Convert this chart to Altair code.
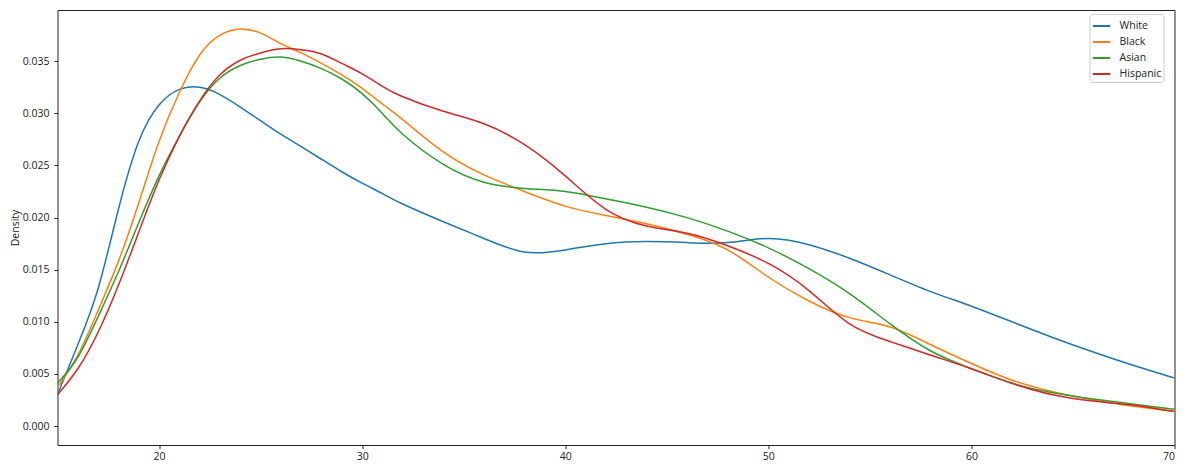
import altair as alt
import pandas as pd

ages = [15, 16, 17, 18, 19, 20, 21, 22, 23, 24, 25, 26, 27, 28, 29, 30, 31,
        32, 34, 36, 38, 40, 42, 44, 46, 48, 50, 52, 54, 56, 58, 60, 62, 64, 66, 68, 70]

white = [0.0030, 0.0078, 0.0132, 0.0208, 0.0273, 0.0308, 0.0323, 0.0325, 0.0318, 0.0306,
         0.0293, 0.0280, 0.0268, 0.0256, 0.0244, 0.0233, 0.0223, 0.0213, 0.0196, 0.0180,
         0.0167, 0.0169, 0.0175, 0.0177, 0.0176, 0.0176, 0.0180, 0.0174, 0.0161, 0.0145,
         0.0129, 0.0115, 0.0100, 0.0085, 0.0071, 0.0058, 0.0046]
black = [0.0037, 0.0068, 0.0111, 0.0158, 0.0214, 0.0273, 0.0320, 0.0356, 0.0375, 0.0381,
         0.0377, 0.0367, 0.0358, 0.0348, 0.0337, 0.0324, 0.0309, 0.0294, 0.0263, 0.0241,
         0.0225, 0.0211, 0.0202, 0.0194, 0.0184, 0.0169, 0.0143, 0.0120, 0.0104, 0.0095,
         0.0078, 0.0060, 0.0044, 0.0033, 0.0025, 0.0019, 0.0014]
asian = [0.0041, 0.0066, 0.0105, 0.0148, 0.0195, 0.0240, 0.0278, 0.0311, 0.0334, 0.0346,
         0.0352, 0.0354, 0.0350, 0.0343, 0.0333, 0.0319, 0.0300, 0.0280, 0.0251, 0.0234,
         0.0228, 0.0225, 0.0218, 0.0210, 0.0200, 0.0187, 0.0171, 0.0151, 0.0127, 0.0098,
         0.0072, 0.0055, 0.0041, 0.0032, 0.0026, 0.0021, 0.0016]
hispanic = [0.0030, 0.0055, 0.0090, 0.0135, 0.0186, 0.0236, 0.0278, 0.0312, 0.0337, 0.0351,
            0.0358, 0.0362, 0.0361, 0.0357, 0.0348, 0.0338, 0.0326, 0.0316, 0.0302, 0.0290,
            0.0270, 0.0240, 0.0208, 0.0192, 0.0185, 0.0173, 0.0156, 0.0130, 0.0098, 0.0081,
            0.0068, 0.0055, 0.0041, 0.0030, 0.0024, 0.0020, 0.0014]

groups = ["White", "Black", "Asian", "Hispanic"]
colors = ["#1f77b4", "#ff7f0e", "#2ca02c", "#d62728"]
series = [white, black, asian, hispanic]

x_ticks = [20, 30, 40, 50, 60, 70]
y_ticks = [0, 0.005, 0.01, 0.015, 0.02, 0.025, 0.03, 0.035]

rows = []
for g, vals in zip(groups, series):
    for a, v in zip(ages, vals):
        rows.append({"age": a, "density": v, "race": g})
df = pd.DataFrame(rows)

FONT = "Open Sans"

chart = alt.Chart(df).mark_line(interpolate="natural", strokeWidth=1.5, clip=True).encode(
    x=alt.X("age:Q", title=None,
            scale=alt.Scale(domain=[15, 70], nice=False, zero=False),
            axis=alt.Axis(values=x_ticks, grid=False, tickSize=3.5,
                          labelFontSize=10.5, labelColor="#222", tickColor="#222",
                          domain=False, labelPadding=3)),
    y=alt.Y("density:Q", title="Density",
            scale=alt.Scale(domain=[-0.00182, 0.03992], nice=False, zero=False),
            axis=alt.Axis(values=y_ticks, format=".3f", grid=False, tickSize=3.5,
                          labelFontSize=10.5, labelColor="#222", tickColor="#222",
                          domain=False, titleFontSize=10.5, titleFontWeight="normal",
                          titleColor="#222", titlePadding=2, labelPadding=5)),
    color=alt.Color("race:N", sort=groups,
                    scale=alt.Scale(domain=groups, range=colors),
                    legend=alt.Legend(title=None, orient="none", legendX=1032, legendY=4,
                                      symbolType="stroke", symbolStrokeWidth=2,
                                      symbolSize=300, labelFontSize=10.5, labelOffset=8,
                                      labelColor="#222", strokeColor="#ccc",
                                      fillColor="white", padding=2, cornerRadius=3,
                                      rowPadding=-2)),
).properties(
    width=1117, height=435,
    autosize=alt.AutoSizeParams(type="none"),
    padding={"left": 49.5, "top": 2, "right": 3, "bottom": 22},
).configure(font=FONT).configure_view(stroke="#222", strokeWidth=1)

chart.save("out.html", embed_options={"renderer": "svg", "actions": False})
